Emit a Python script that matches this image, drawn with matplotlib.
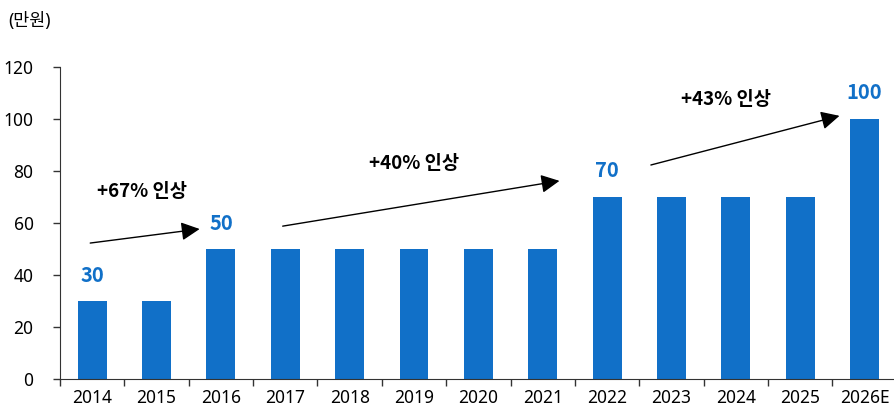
import matplotlib
matplotlib.use('Agg')
import matplotlib.pyplot as plt
import numpy as np

plt.rcParams['font.family'] = ['Noto Sans', 'Noto Sans CJK KR', 'DejaVu Sans']
bold_family = ['Noto Sans CJK KR', 'DejaVu Sans']

years = ['2014', '2015', '2016', '2017', '2018', '2019', '2020',
         '2021', '2022', '2023', '2024', '2025', '2026E']
values = [30, 30, 50, 50, 50, 50, 50, 50, 70, 70, 70, 70, 100]

# which bars get a value label
labeled = [0, 2, 8, 12]

# growth arrows: (start idx, start y, end idx, end y), text pos, text
arrows = [
    ((-0.03, 52.3), (1.67, 57.7), (0.78, 72.0), '+67% 인상'),
    ((2.96, 58.8), (7.26, 76.2), (5.0, 83.0), '+40% 인상'),
    ((8.68, 82.3), (11.61, 101.2), (9.84, 107.3), '+43% 인상'),
]

bar_color = '#1170C8'

fig = plt.figure(figsize=(8.95, 4.13), dpi=100)
ax = fig.add_axes([0.067, 0.082, 0.935, 0.756])

x = np.arange(len(years))
ax.bar(x, values, width=0.45, color=bar_color, zorder=2)

for i in labeled:
    ax.text(x[i], values[i] + 10, str(values[i]), ha='center', va='center',
            color=bar_color, fontsize=14.5, fontweight='bold', family=bold_family)

for start, end, tpos, txt in arrows:
    ax.annotate('', xy=end, xytext=start,
                arrowprops=dict(arrowstyle='-|>', color='black', lw=1.0,
                                mutation_scale=28, shrinkA=0, shrinkB=0))
    ax.text(tpos[0], tpos[1], txt, ha='center', va='center',
            fontsize=13.5, fontweight='bold', color='black', family=bold_family)

ax.set_xlim(-0.5, len(years) - 0.5)
ax.set_ylim(0, 120)
ax.set_yticks(np.arange(0, 121, 20))
ax.set_xticks(x)
ax.set_xticklabels(years)
ax.set_xticks(np.arange(-0.5, len(years), 1), minor=True)
ax.tick_params(axis='x', which='major', length=0, pad=7, labelsize=12.5)
ax.tick_params(axis='x', which='minor', length=5, width=1, color='#333333')
ax.tick_params(axis='y', length=5, width=1, color='#333333', labelsize=12.5, pad=14)

for s in ['top', 'right']:
    ax.spines[s].set_visible(False)
for s in ['left', 'bottom']:
    ax.spines[s].set_color('#333333')

fig.text(0.009, 0.95, '(만원)', fontsize=12.5, ha='left', va='center')

fig.savefig('out.png', dpi=100)
